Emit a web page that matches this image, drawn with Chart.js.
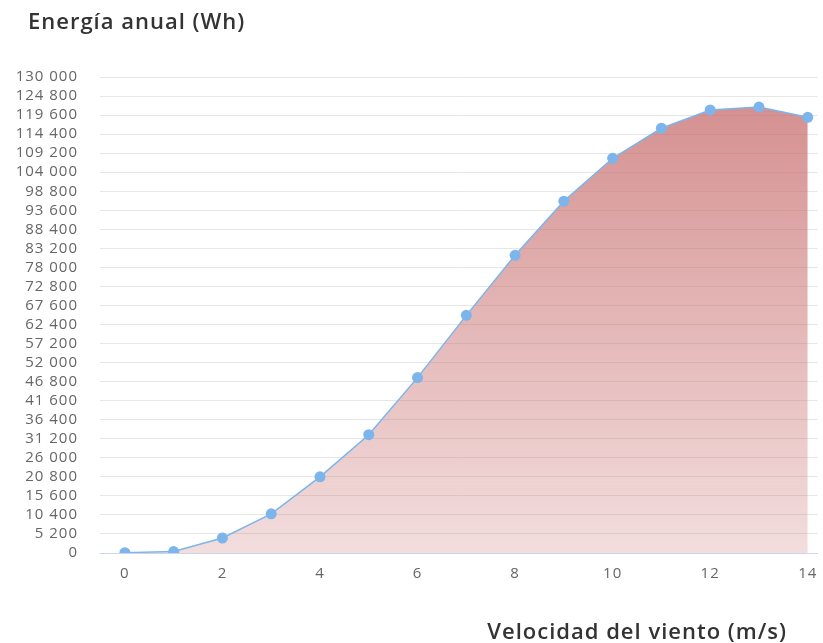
<!DOCTYPE html>
<html>
<head>
<meta charset="utf-8">
<script src="https://cdn.jsdelivr.net/npm/chart.js@4"></script>
<style>
  html, body { margin: 0; padding: 0; background: #fff; }
</style>
</head>
<body>
<canvas id="chart" width="823" height="643"></canvas>
<script>
const windSpeed = [0, 1, 2, 3, 4, 5, 6, 7, 8, 9, 10, 11, 12, 13, 14]
const annualEnergy = [100, 400, 4100, 10700, 20800, 32300, 47900, 64900, 81300, 96100, 107800, 116000, 121000, 121800, 119000]
const xTicks = [0, 2, 4, 6, 8, 10, 12, 14]
const yStep = 5200
const yMax = 130000

const chartTitle = 'Energía anual (Wh)'
const xTitle = 'Velocidad del viento (m/s)'

// miles separados por espacio, como en el original
const fmt = (v) => String(v).replace(/\B(?=(\d{3})+(?!\d))/g, ' ')

const spacing = {
  id: 'spacing',
  beforeUpdate(chart) { chart.ctx.letterSpacing = '1px' },
  beforeDraw(chart) { chart.ctx.letterSpacing = '1px' }
}

// títulos: el del gráfico arriba a la izquierda, el del eje x abajo a la derecha
const captions = {
  id: 'captions',
  afterDraw(chart) {
    const ctx = chart.ctx
    ctx.save()
    ctx.font = '600 22px "Open Sans"'
    ctx.fillStyle = '#333333'
    ctx.textBaseline = 'alphabetic'
    ctx.textAlign = 'left'
    ctx.fillText(chartTitle, 28, 29)
    ctx.textAlign = 'right'
    ctx.fillText(xTitle, 787, 639)
    ctx.restore()
  }
}

const ctx = document.getElementById('chart').getContext('2d')

new Chart(ctx, {
  type: 'line',
  data: {
    datasets: [{
      data: windSpeed.map((s, i) => ({ x: s, y: annualEnergy[i] })),
      borderColor: '#7cb5ec',
      borderWidth: 1.5,
      pointBackgroundColor: '#7cb5ec',
      pointBorderWidth: 0,
      pointRadius: 5.5,
      tension: 0,
      fill: 'origin',
      backgroundColor: (c) => {
        const area = c.chart.chartArea
        if (!area) return 'rgba(205,115,115,0.5)'
        const g = c.chart.ctx.createLinearGradient(0, area.top, 0, area.bottom)
        g.addColorStop(0, 'rgba(200,110,110,0.8)')
        g.addColorStop(1, 'rgba(205,120,120,0.25)')
        return g
      }
    }]
  },
  options: {
    responsive: false,
    animation: false,
    layout: { padding: { left: 6, right: 0, top: 77, bottom: 56 } },
    plugins: {
      legend: { display: false },
      tooltip: { enabled: false },
      title: { display: false }
    },
    scales: {
      x: {
        type: 'linear',
        min: -0.51,
        max: 14.2,
        afterBuildTicks: (s) => { s.ticks = xTicks.map((v) => ({ value: v })) },
        grid: { display: false },
        border: { display: true, color: '#ccd6eb', width: 1 },
        ticks: {
          color: '#666666',
          padding: 4,
          font: { family: '"Open Sans"', size: 15 }
        }
      },
      y: {
        min: 0,
        max: yMax,
        afterFit: (s) => { s.width = 94 },
        grid: { color: '#e6e6e6', lineWidth: 1, drawTicks: false },
        border: { display: false },
        ticks: {
          stepSize: yStep,
          autoSkip: false,
          color: '#666666',
          padding: 22,
          font: { family: '"Open Sans"', size: 15 },
          callback: (v) => fmt(v)
        }
      }
    }
  },
  plugins: [spacing, captions]
})
</script>
</body>
</html>
